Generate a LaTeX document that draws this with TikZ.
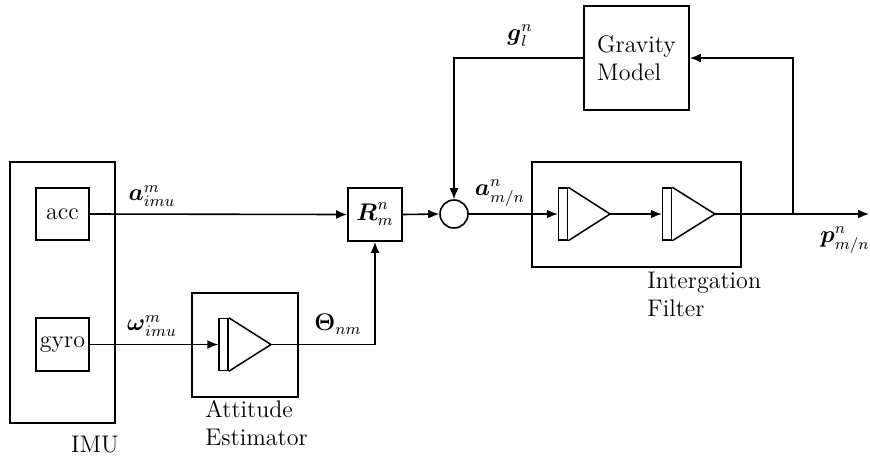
\documentclass[tikz,border=0pt]{standalone}
\usepackage{amsmath}
\usetikzlibrary{arrows.meta}
\begin{document}
\begin{tikzpicture}[x=0.5pt,y=-0.5pt,
  font=\fontsize{12}{14}\selectfont,
  blk/.style={draw,line width=0.9pt,inner sep=0pt},
  bar/.style={draw,line width=0.75pt,inner sep=0pt,minimum width=4.5pt,minimum height=26pt},
  sig/.style={line width=0.8pt,-{Latex[length=5.5pt,width=4.5pt]}},
  lbl/.style={inner sep=0pt}]
\useasboundingbox (0,0) rectangle (870,456);
% blocks
\node[blk,minimum width=52.5pt,minimum height=130.5pt] (imu) at (62.5,292.5) {};
\node[blk,minimum width=26.5pt,minimum height=26pt] (acc) at (62.5,214) {acc};
\node[blk,minimum width=26.5pt,minimum height=26.5pt] (gyro) at (62.5,344.5) {gyro};
\node[blk,minimum width=53pt,minimum height=52pt] (att) at (245,345) {};
\node[bar] (b0) at (223.5,344.5) {};
\draw[line width=0.75pt] (b0.north east) -- (271,344.5) coordinate (t0) -- (b0.south east);
\node[blk,minimum width=27pt,minimum height=26.5pt] (R) at (375,214.5) {$\boldsymbol{R}^{n}_{m}$};
\node[draw,circle,line width=0.8pt,minimum size=14pt,inner sep=0pt] (sum) at (454,214) {};
\node[blk,minimum width=52.5pt,minimum height=52pt,align=left] (grav) at (636.5,58) {Gravity\\Model};
\node[blk,minimum width=104.5pt,minimum height=52.5pt] (intf) at (636.5,214.5) {};
\node[bar] (b1) at (563,214) {};
\draw[line width=0.75pt] (b1.north east) -- (610,214) coordinate (t1) -- (b1.south east);
\node[bar] (b2) at (667,214) {};
\draw[line width=0.75pt] (b2.north east) -- (715,214) coordinate (t2) -- (b2.south east);
\coordinate (br) at (793,214);
\coordinate (out) at (869,214);
% connectors
\draw[sig] (acc.east) -- (R.west);
\draw[sig] (gyro.east) -- (b0.west);
\draw[sig] (t0) -| (R.south);
\draw[sig] (R.east) -- (sum.west);
\draw[sig] (sum.east) -- (b1.west);
\draw[sig] (t1) -- (b2.west);
\draw[sig] (t2) -- (out);
\draw[sig] (br) |- (grav.east);
\draw[sig] (grav.west) -| (sum.north);
% labels
\node[lbl] (la) at (152,196) {$\boldsymbol{a}^{m}_{imu}$};
\node[lbl] (lw) at (152,326) {$\boldsymbol{\omega}^{m}_{imu}$};
\node[lbl] (lt) at (338,324) {$\boldsymbol{\Theta}_{nm}$};
\node[lbl] (lamn) at (500,193) {$\boldsymbol{a}^{n}_{m/n}$};
\node[lbl] (lg) at (520,36) {$\boldsymbol{g}^{n}_{l}$};
\node[lbl] (lp) at (845,240) {$\boldsymbol{p}^{n}_{m/n}$};
\node[lbl] (limu) at (95,445) {IMU};
\node[lbl,align=left,anchor=west] (latt) at (205,423) {Attitude\\Estimator};
\node[lbl,align=left,anchor=west] (lint) at (647,294) {Intergation\\Filter};
\end{tikzpicture}
\end{document}
